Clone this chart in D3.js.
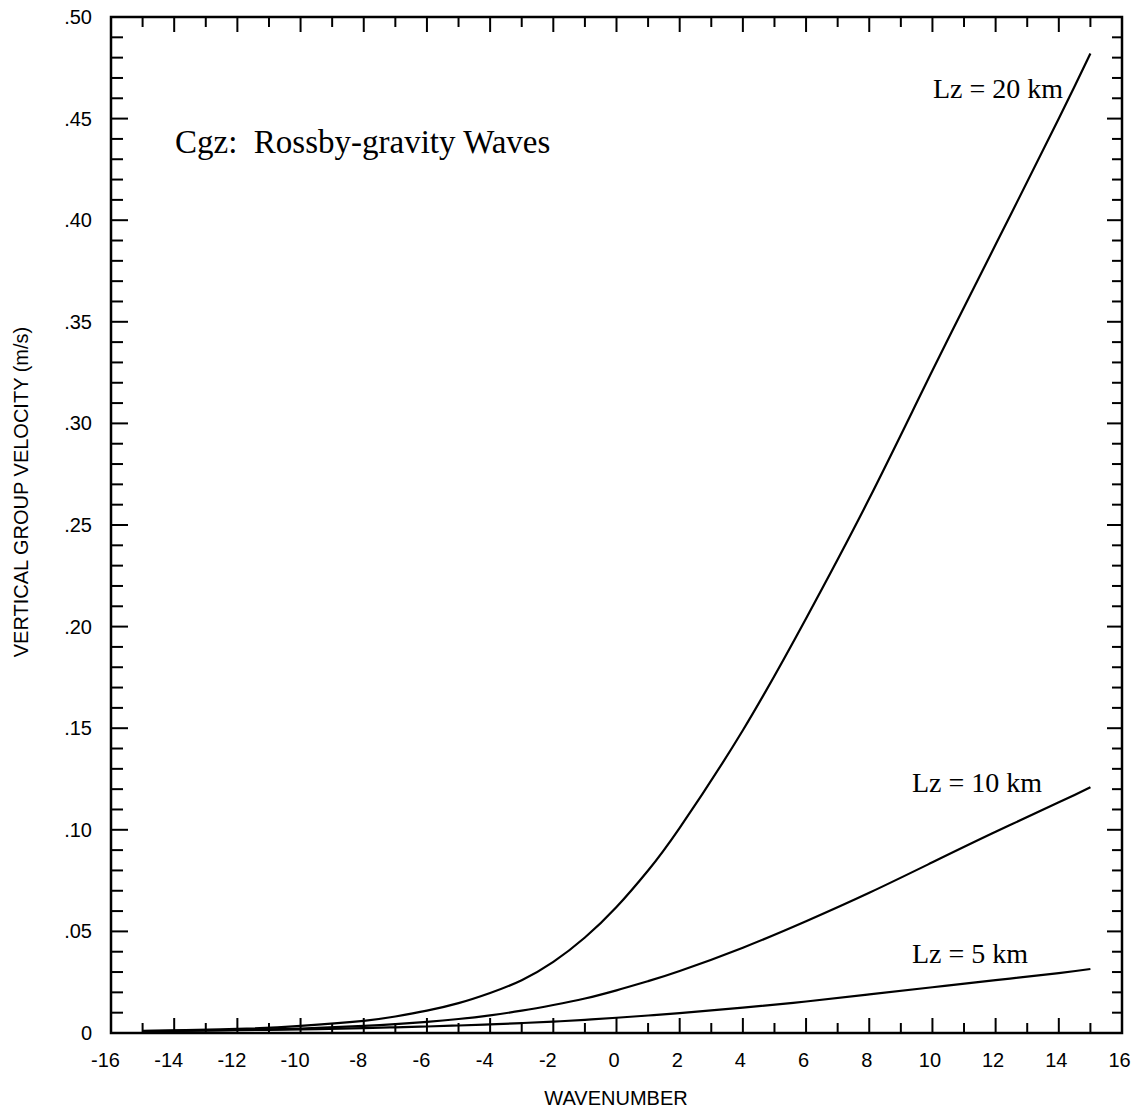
<!DOCTYPE html>
<html>
<head>
<meta charset="utf-8">
<script src="https://cdn.jsdelivr.net/npm/d3@7"></script>
<style>
  body { margin: 0; background: #fff; }
  svg { display: block; }
</style>
</head>
<body>
<script>
// wavenumber samples and Cgz (m/s) for each vertical wavelength
var wavenumber = [-15,-14,-12,-10,-8,-7,-6,-5,-4,-3,-2,-1,0,1,2,4,6,8,10,12,14,15];
var cgz20 = [0.001,0.0013,0.002,0.0035,0.006,0.0081,0.011,0.0147,0.0197,0.026,0.035,0.047,0.062,0.080,0.101,0.149,0.204,0.263,0.326,0.388,0.450,0.482];
var cgz10 = [0.0009,0.001,0.0015,0.0022,0.0035,0.0044,0.0055,0.0069,0.0087,0.011,0.0138,0.017,0.021,0.0255,0.0305,0.042,0.055,0.069,0.084,0.099,0.1135,0.121];
var cgz5  = [0.0009,0.001,0.0014,0.0018,0.0024,0.0028,0.0032,0.0037,0.0042,0.0049,0.0056,0.0065,0.0075,0.0086,0.0098,0.0125,0.0155,0.019,0.0225,0.026,0.0295,0.0315];
var curveLabels = ['Lz = 20 km','Lz = 10 km','Lz = 5 km'];

var xTicks = d3.range(-16,17,1);
var yTicks = d3.range(0,51,1).map(function(d){return d/100;});

var W = 1141, H = 1113;
var x = d3.scaleLinear().domain([-16,16]).range([111,1122]);
var y = d3.scaleLinear().domain([0,0.5]).range([1033,17]);

var svg = d3.select('body').append('svg').attr('width',W).attr('height',H);

function isMajorX(d){return d % 2 === 0;}
function isMajorY(d){return Math.round(d*100) % 5 === 0;}
function yFmt(d){ if (d === 0) return '0'; return d3.format('.2f')(d).replace(/^0/,''); }

var sans = 'Liberation Sans, Arial, Helvetica, sans-serif';
var serif = 'Liberation Serif, Times New Roman, serif';

// bottom axis with labels
var xAxisB = d3.axisBottom(x).tickValues(xTicks).tickSizeInner(0).tickSizeOuter(0)
  .tickFormat(function(d){return isMajorX(d) ? d : '';}).tickPadding(20);
var gB = svg.append('g').attr('transform','translate(0,1033)').call(xAxisB);
gB.select('.domain').remove();
gB.selectAll('text').attr('font-family',sans).attr('font-size','20px').attr('fill','#000')
  .attr('dx',function(d){return d < 0 ? '-6' : '-3';});

// left axis with labels
var yAxisL = d3.axisLeft(y).tickValues(yTicks).tickSizeInner(0).tickSizeOuter(0)
  .tickFormat(function(d){return isMajorY(d) ? yFmt(d) : '';}).tickPadding(19);
var gL = svg.append('g').attr('transform','translate(111,0)').call(yAxisL);
gL.select('.domain').remove();
gL.selectAll('text').attr('font-family',sans).attr('font-size','20px').attr('fill','#000');

// inward ticks on all four sides
var tk = svg.append('g').attr('stroke','#000').attr('stroke-width',2);
tk.selectAll('line.xb').data(xTicks.slice(1,-1)).enter().append('line').attr('class','xb')
  .attr('x1',function(d){return x(d);}).attr('x2',function(d){return x(d);})
  .attr('y1',1033).attr('y2',function(d){return 1033-(isMajorX(d)?15:10);});
tk.selectAll('line.xt').data(xTicks.slice(1,-1)).enter().append('line').attr('class','xt')
  .attr('x1',function(d){return x(d);}).attr('x2',function(d){return x(d);})
  .attr('y1',17).attr('y2',function(d){return 17+(isMajorX(d)?15:10);});
tk.selectAll('line.yl').data(yTicks.slice(1,-1)).enter().append('line').attr('class','yl')
  .attr('y1',function(d){return y(d);}).attr('y2',function(d){return y(d);})
  .attr('x1',111).attr('x2',function(d){return 111+(isMajorY(d)?17:12);});
tk.selectAll('line.yr').data(yTicks.slice(1,-1)).enter().append('line').attr('class','yr')
  .attr('y1',function(d){return y(d);}).attr('y2',function(d){return y(d);})
  .attr('x1',1122).attr('x2',function(d){return 1122-(isMajorY(d)?15:10);});

// frame
svg.append('rect').attr('x',111).attr('y',17).attr('width',1122-111).attr('height',1033-17)
  .attr('fill','none').attr('stroke','#000').attr('stroke-width',2.5);

// curves
var line = d3.line()
  .x(function(d){return x(d[0]);})
  .y(function(d){return y(d[1]);})
  .curve(d3.curveNatural);

[cgz20,cgz10,cgz5].forEach(function(vals){
  svg.append('path')
    .datum(wavenumber.map(function(w,i){return [w,vals[i]];}))
    .attr('fill','none').attr('stroke','#000').attr('stroke-width',2.2)
    .attr('d',line);
});

// curve labels
var labelPos = [[1063,98],[1042,792],[1028,963]];
svg.selectAll('text.lz').data(curveLabels).enter().append('text').attr('class','lz')
  .attr('x',function(d,i){return labelPos[i][0];})
  .attr('y',function(d,i){return labelPos[i][1];})
  .attr('text-anchor','end')
  .attr('font-family',serif)
  .attr('font-size','28px')
  .text(function(d){return d;});

// title
svg.append('text').attr('x',175).attr('y',153)
  .attr('font-family',serif)
  .attr('font-size','33px')
  .style('white-space','pre')
  .text('Cgz:  Rossby-gravity Waves');

// axis titles
svg.append('text').attr('x',616).attr('y',1105).attr('text-anchor','middle')
  .attr('font-family',sans).attr('font-size','20px')
  .text('WAVENUMBER');
svg.append('text').attr('transform','translate(28,492) rotate(-90)').attr('text-anchor','middle')
  .attr('font-family',sans).attr('font-size','20px')
  .text('VERTICAL GROUP VELOCITY (m/s)');
</script>
</body>
</html>
